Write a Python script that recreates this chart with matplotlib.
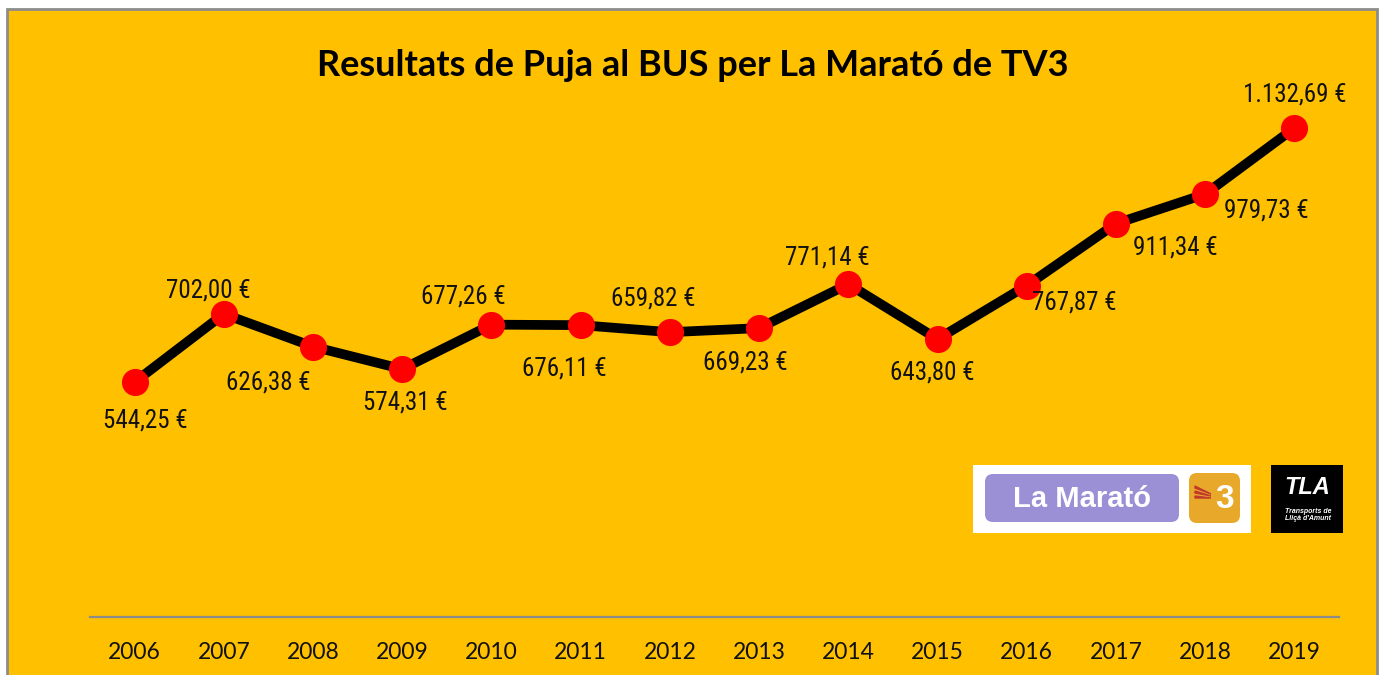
import matplotlib
matplotlib.use("Agg")
import matplotlib.pyplot as plt
from matplotlib.patches import Rectangle, FancyBboxPatch, Polygon

# Data
years = ["2006", "2007", "2008", "2009", "2010", "2011", "2012",
         "2013", "2014", "2015", "2016", "2017", "2018", "2019"]
amounts = [544.25, 702.00, 626.38, 574.31, 677.26, 676.11, 659.82,
           669.23, 771.14, 643.80, 767.87, 911.34, 979.73, 1132.69]
title = "Resultats de Puja al BUS per La Marató de TV3"

# label offsets (points) for each data label
label_offsets = [(8, -28), (-11, 17), (-32, -26), (2, -24), (-20, 20), (-12, -31),
                 (-12, 24), (-10, -25), (-15, 19), (-4, -24), (34, -12), (43, -17),
                 (44, -12), (0, 24)]


def fmt_eur(v):
    s = f"{v:,.2f}"
    s = s.replace(",", "X").replace(".", ",").replace("X", ".")
    return s + " €"


W, H = 1388, 675
fig = plt.figure(figsize=(W / 100, H / 100), dpi=100, facecolor="white")

# background axes in pixel coordinates
bg = fig.add_axes([0, 0, 1, 1], zorder=0)
bg.set_xlim(0, W)
bg.set_ylim(H, 0)
bg.axis("off")
bg.add_patch(Rectangle((7, 9), 1370, 680, facecolor="#FFC000",
                       edgecolor="#8c8c8c", linewidth=2))

bg.text(693, 65, title, ha="center", va="center", fontsize=26,
        fontweight="bold", family=["Lato", "DejaVu Sans"], color="#000000")

# La Marató logo
bg.add_patch(Rectangle((973, 465), 278, 68, facecolor="white", edgecolor="none"))
bg.add_patch(FancyBboxPatch((985, 474), 194, 48, boxstyle="round,pad=0,rounding_size=8",
                            facecolor="#9b8fd6", edgecolor="none"))
bg.text(1082, 499, "La Marató", ha="center", va="center", fontsize=21,
        fontweight="bold", color="white", family=["Liberation Sans", "DejaVu Sans"])
bg.add_patch(FancyBboxPatch((1189, 473), 51, 50, boxstyle="round,pad=0,rounding_size=8",
                            facecolor="#e8a92a", edgecolor="none"))
bg.text(1225, 500, "3", ha="center", va="center", fontsize=24,
        fontweight="bold", color="white", family=["Liberation Sans", "DejaVu Sans"])
for k in range(3):
    bg.add_patch(Polygon([(1195, 486 + 5 * k), (1211, 494 + 2 * k), (1195, 488 + 5 * k)],
                         closed=True, facecolor="#c0392b", edgecolor="#c0392b", linewidth=1))

# TLA logo
bg.add_patch(Rectangle((1271, 465), 72, 68, facecolor="black", edgecolor="none"))
bg.text(1307, 487, "TLA", ha="center", va="center", fontsize=17, fontweight="bold",
        style="italic", color="white", family=["Liberation Sans", "DejaVu Sans"])
bg.text(1308, 515, "Transports de\nLliçà d'Amunt", ha="center", va="center", fontsize=5,
        style="italic", fontweight="bold", color="white", linespacing=1.0,
        family=["Liberation Sans", "DejaVu Sans"])

# main chart
ax = fig.add_axes([90 / W, 1 - 617 / H, (1339 - 90) / W, (617 - 99) / H], zorder=1)
ax.patch.set_alpha(0)
x = list(range(len(years)))
ax.plot(x, amounts, color="black", linewidth=7, solid_capstyle="round", zorder=2)
ax.plot(x, amounts, linestyle="none", marker="o", markersize=18.5,
        markerfacecolor="#ff0000", markeredgecolor="#ff0000", zorder=3)

for xi, v, off in zip(x, amounts, label_offsets):
    ax.annotate(fmt_eur(v), (xi, v), xytext=off, textcoords="offset points",
                ha="center", va="center", fontsize=18, color="#111111",
                family=["Roboto Condensed", "Roboto", "DejaVu Sans"])

ax.set_xlim(-0.5, len(years) - 0.5)
ax.set_ylim(0, 1200)
ax.set_xticks(x)
ax.set_xticklabels(years, fontsize=16.5, family=["Lato", "DejaVu Sans"], color="#111111")
ax.tick_params(axis="x", length=0, pad=18)
ax.set_yticks([])
for side in ["top", "right", "left"]:
    ax.spines[side].set_visible(False)
ax.spines["bottom"].set_color("#8c8c8c")
ax.spines["bottom"].set_linewidth(1.6)

fig.savefig("out.png", dpi=100, facecolor="white")
